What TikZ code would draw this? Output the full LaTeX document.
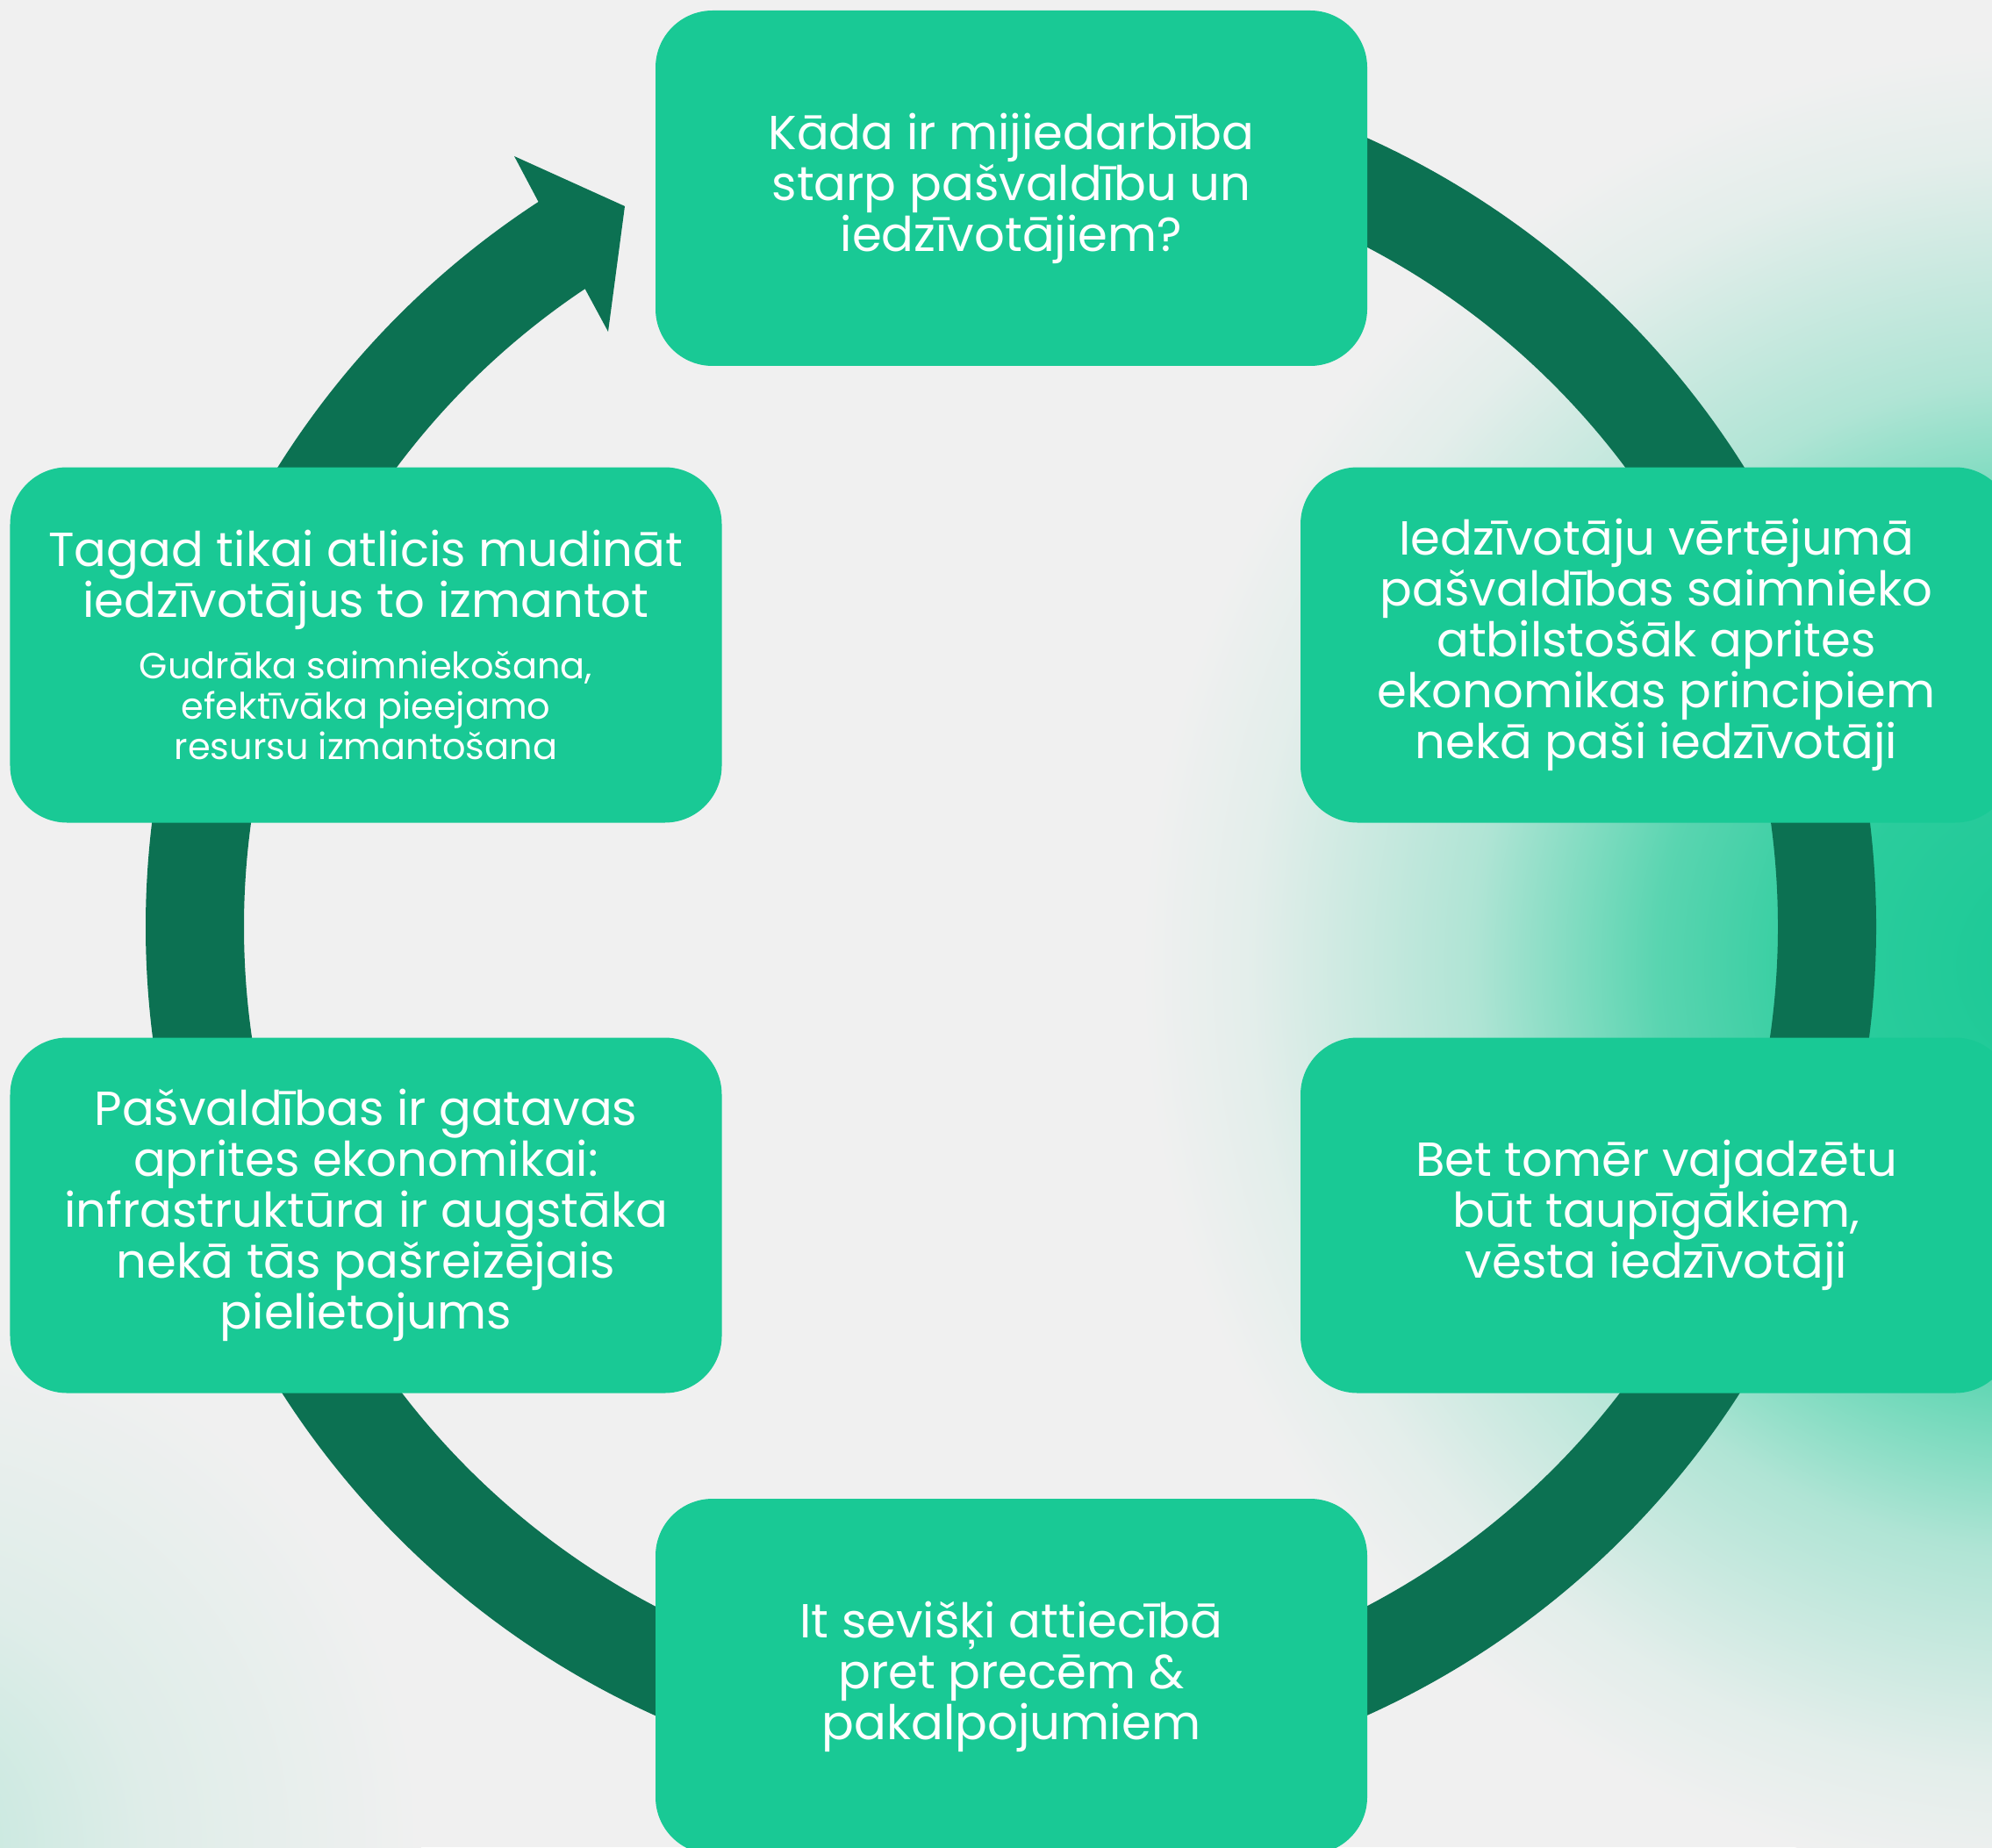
\documentclass[tikz,border=0pt]{standalone}
\usepackage{fontspec}
\setmainfont{Poppins}
\usepackage{xcolor}
\definecolor{bgGray}{HTML}{F0F0F0}
\definecolor{boxGreen}{HTML}{19C995}
\definecolor{ringGreen}{HTML}{0C7152}
\usepackage{tikz}
\usetikzlibrary{calc}

\newcommand{\subsize}{\fontsize{11.8}{13}\selectfont}
\pgfdeclareradialshading{glowshade}{\pgfpoint{0bp}{0bp}}{%
  color(0bp)=(boxGreen); color(6bp)=(boxGreen!92!bgGray);
  color(11bp)=(boxGreen!70!bgGray); color(16bp)=(boxGreen!30!bgGray);
  color(22bp)=(boxGreen!6!bgGray); color(25bp)=(bgGray); color(50bp)=(bgGray)}
\pgfdeclareradialshading{faintshade}{\pgfpoint{0bp}{0bp}}{%
  color(0bp)=(boxGreen!22!bgGray); color(12bp)=(boxGreen!8!bgGray);
  color(25bp)=(bgGray); color(50bp)=(bgGray)}

\tikzset{
  stepbox/.style={rectangle, rounded corners=0.65cm, fill=boxGreen, text=white,
    minimum width=8.11cm, minimum height=4.05cm, align=center,
    font=\fontsize{15.5}{16.5}\selectfont},
  ring/.style={ringGreen, line width=1.12cm},
}

\begin{document}
\begin{tikzpicture}
  % page and background glow
  \useasboundingbox (0,0) rectangle (22.70,-21.05);
  \fill[bgGray] (0,0) rectangle (22.70,-21.05);
  \clip (0,0) rectangle (22.70,-21.05);
  \shade[shading=glowshade] (23.5,-11.0) circle (10.5);
  \shade[shading=faintshade] (-1.2,-21.0) circle (6);
  % centre of the cycle
  \coordinate (C) at (11.52,-10.56);
  % the ring, clockwise from the top
  \draw[ring] ($(C)+(90:9.30)$) arc[start angle=90, end angle=-237, radius=9.30];
  % arrow head
  \fill[ringGreen] (6.13,-2.29) -- (5.86,-1.78) -- (7.12,-2.35)
    -- (6.93,-3.78) -- (6.66,-3.28) -- cycle;
  % the six boxes
  \node[stepbox] (top) at (11.525,-2.145)
    {Kāda ir mijiedarbība\\starp pašvaldību un\\iedzīvotājiem?};
  \node[stepbox] (rightA) at (18.875,-7.35)
    {Iedzīvotāju vērtējumā\\pašvaldības saimnieko\\atbilstošāk aprites\\ekonomikas principiem\\nekā paši iedzīvotāji};
  \node[stepbox] (rightB) at (18.875,-13.85)
    {Bet tomēr vajadzētu\\būt taupīgākiem,\\vēsta iedzīvotāji};
  \node[stepbox] (bottom) at (11.525,-19.105)
    {It sevišķi attiecībā\\pret precēm \&\\pakalpojumiem};
  \node[stepbox] (leftB) at (4.17,-13.85)
    {Pašvaldības ir gatavas\\aprites ekonomikai:\\infrastruktūra ir augstāka\\nekā tās pašreizējais\\pielietojums};
  \node[stepbox] (leftA) at (4.17,-7.35)
    {Tagad tikai atlicis mudināt\\iedzīvotājus to izmantot\\[3.5pt]
     \subsize Gudrāka saimniekošana,\\[-3.5pt]\subsize efektīvāka pieejamo\\[-3.5pt]\subsize resursu izmantošana};
\end{tikzpicture}
\end{document}
